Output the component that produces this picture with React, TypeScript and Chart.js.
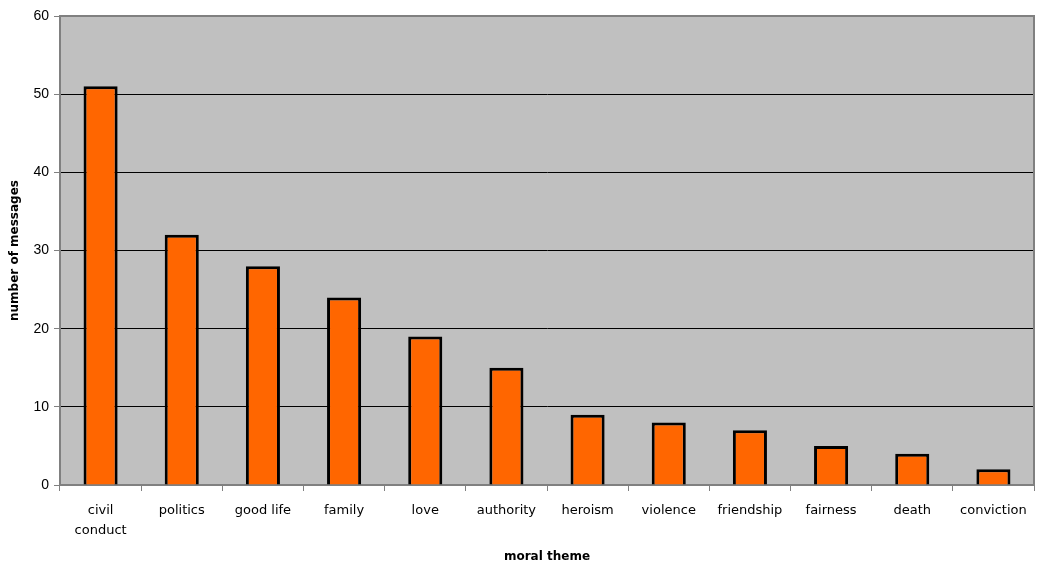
import React, { useEffect, useRef } from "react";
import { Chart, registerables } from "chart.js";

Chart.register(...registerables);

const categories: (string | string[])[] = [
  ["civil", "conduct"],
  "politics",
  "good life",
  "family",
  "love",
  "authority",
  "heroism",
  "violence",
  "friendship",
  "fairness",
  "death",
  "conviction",
];
const messageCounts = [51, 32, 28, 24, 19, 15, 9, 8, 7, 5, 4, 2];
const yTickValues = [0, 10, 20, 30, 40, 50, 60];
const xTitle = "moral theme";
const yTitle = "number of messages";

const plotBackground = {
  id: "plotBackground",
  beforeDraw(chart: any) {
    const { ctx, chartArea } = chart;
    ctx.save();
    ctx.fillStyle = "#C0C0C0";
    ctx.fillRect(chartArea.left, chartArea.top, chartArea.right - chartArea.left, chartArea.bottom - chartArea.top);
    ctx.restore();
  },
  afterDatasetsDraw(chart: any) {
    const { ctx, chartArea } = chart;
    ctx.save();
    ctx.strokeStyle = "#808080";
    ctx.lineWidth = 2;
    ctx.beginPath();
    ctx.moveTo(chartArea.left, chartArea.top);
    ctx.lineTo(chartArea.right, chartArea.top);
    ctx.lineTo(chartArea.right, chartArea.bottom);
    ctx.stroke();
    ctx.restore();
  },
};

export default function App() {
  const ref = useRef<HTMLCanvasElement | null>(null);
  useEffect(() => {
    if (!ref.current) return;
    const chart = new Chart(ref.current, {
      type: "bar",
      data: {
        labels: categories,
        datasets: [
          {
            data: messageCounts,
            backgroundColor: "#FF6600",
            borderColor: "#000000",
            borderWidth: 3,
            barPercentage: 0.42,
            categoryPercentage: 1,
          },
        ],
      },
      options: {
        animation: false,
        responsive: false,
        maintainAspectRatio: false,
        layout: { padding: { top: 16, right: 5, left: 0, bottom: 0 } },
        plugins: { legend: { display: false }, tooltip: { enabled: false } },
        scales: {
          x: {
            grid: {
              offset: true,
              drawOnChartArea: false,
              drawTicks: true,
              tickLength: 6,
              color: "#808080",
            },
            border: { color: "#808080", width: 2 },
            ticks: {
              color: "#000000",
              padding: 10,
              maxRotation: 0,
              autoSkip: false,
              font: { family: "DejaVu Sans", size: 13, lineHeight: 1.5 },
            },
            title: {
              display: true,
              text: xTitle,
              color: "#000000",
              font: { family: "DejaVu Sans", size: 12, weight: "bold" },
              padding: { top: 4, bottom: 4 },
            },
            afterFit(scale: any) {
              scale.height = 83;
            },
          },
          y: {
            min: 0,
            max: 60,
            afterBuildTicks(scale: any) {
              scale.ticks = yTickValues.map((v) => ({ value: v }));
            },
            grid: {
              color: (c: any) => (c.tick && (c.tick.value === 0 || c.tick.value === 60) ? "rgba(0,0,0,0)" : "#000000"),
              tickColor: "#808080",
              tickLength: 6,
              lineWidth: 1,
            },
            border: { color: "#808080", width: 2 },
            ticks: {
              color: "#000000",
              padding: 5,
              font: { family: "Liberation Sans", size: 14 },
            },
            title: {
              display: true,
              text: yTitle,
              color: "#000000",
              font: { family: "DejaVu Sans", size: 12, weight: "bold" },
              padding: { top: 8, bottom: 0 },
            },
            afterFit(scale: any) {
              scale.width = 60;
            },
          },
        },
      },
      plugins: [plotBackground],
    });
    return () => chart.destroy();
  }, []);
  return (
    <div style={{ position: "absolute", left: 0, top: 0, width: 1039, height: 568, background: "#fff" }}>
      <canvas ref={ref} width={1039} height={568} style={{ width: 1039, height: 568 }} />
    </div>
  );
}
